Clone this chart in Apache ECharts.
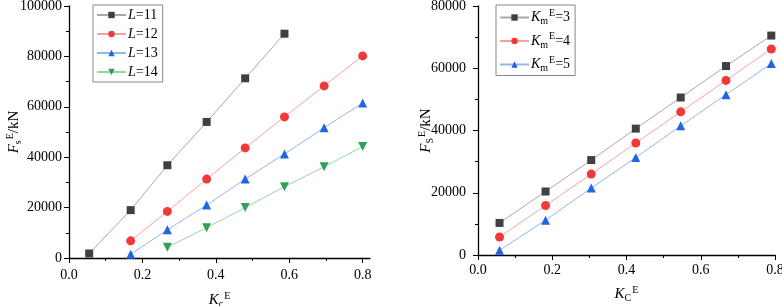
<!DOCTYPE html>
<html>
<head>
<meta charset="UTF-8">
<title>Fs-Kc</title>
<script src="https://cdn.jsdelivr.net/npm/echarts@6/dist/echarts.min.js"></script>
<style>
  body { margin: 0; background: #fff; }
  #main { width: 782px; height: 306px; }
</style>
</head>
<body>
<div id="main"></div>
<script type="text/javascript">
// left chart: different L
var kcLeft = [0.055, 0.168, 0.268, 0.375, 0.48, 0.587, 0.695, 0.8];
var fsL11 = [1800, 19000, 36800, 54000, 71300, 89000];
var fsL12 = [6800, 18500, 31300, 43700, 56000, 68300, 80200];
var fsL13 = [1500, 11200, 21000, 31300, 41300, 51700, 61500];
var fsL14 = [4300, 12000, 20000, 28300, 36200, 44200];
var namesLeft = ['L=11', 'L=12', 'L=13', 'L=14'];

// right chart: different Km
var kcRight = [0.058, 0.182, 0.305, 0.425, 0.546, 0.668, 0.79];
var fsK3 = [10300, 20400, 30500, 40600, 50600, 60700, 70500];
var fsK4 = [5800, 15900, 26000, 36000, 46000, 56100, 66200];
var fsK5 = [1500, 11200, 21500, 31300, 41500, 51500, 61500];
var namesRight = ['Km=3', 'Km=4', 'Km=5'];

var xMajor = [0, 0.2, 0.4, 0.6, 0.8];
var xMinor = [0.1, 0.3, 0.5, 0.7];

function pairs(xs, ys, start) {
  var out = [];
  for (var i = 0; i < ys.length; i++) out.push([xs[start + i], ys[i]]);
  return out;
}

var FONT = '"Liberation Serif", "Times New Roman", serif';
function richSet(size) {
  return {
    i: { fontFamily: FONT, fontSize: size, fontStyle: 'italic', color: '#000' },
    n: { fontFamily: FONT, fontSize: size, color: '#000' },
    sub: { fontFamily: FONT, fontSize: 10, color: '#000', padding: [8, 0, 0, 0] },
    sup: { fontFamily: FONT, fontSize: 10, color: '#000', padding: [0, 0, 9, 1] }
  };
}
var rich = richSet(15);
var richLegend = richSet(14);

var axisLine = { show: true, lineStyle: { color: '#000', width: 1.3 } };
var labelStyle = { color: '#000', fontFamily: FONT, fontSize: 14 };
var plain = function (v) { return String(v); };
var oneDec = function (v) { return v.toFixed(1); };

var myChart = echarts.init(document.getElementById('main'));

var option = {
  animation: false,
  grid: [
    { left: 69, top: 6, width: 301, height: 252, outerBoundsMode: 'none' },
    { left: 478, top: 6, width: 297, height: 249, outerBoundsMode: 'none' }
  ],
  legend: [
    {
      data: namesLeft, orient: 'vertical', left: 93, top: 5,
      itemWidth: 29, itemHeight: 8, itemGap: 5,
      padding: [3, 5, 3, 3],
      borderColor: '#888', borderWidth: 1,
      formatter: function (n) { return '{i|L}{n|' + n.slice(1) + '}'; },
      textStyle: { rich: richLegend, padding: [0, 0, 0, -3] }
    },
    {
      data: namesRight, orient: 'vertical', left: 496, top: 5,
      itemWidth: 29, itemHeight: 8, itemGap: 5,
      padding: [3, 5, 2, 3],
      borderColor: '#888', borderWidth: 1,
      formatter: function (n) { return '{i|K}{sub|m}{sup|E}{n|' + n.slice(2) + '}'; },
      textStyle: { rich: richLegend, padding: [0, 0, 0, -3] }
    }
  ],
  xAxis: [
    {
      gridIndex: 0, type: 'value', position: 'bottom', min: 0, max: 0.82,
      axisLine: axisLine, splitLine: { show: false },
      axisTick: { customValues: xMajor, length: 5, lineStyle: { color: '#000' } },
      axisLabel: Object.assign({ customValues: xMajor, margin: 10, formatter: oneDec }, labelStyle),
      name: '{i|K}{sub|c}{sup|E}', nameLocation: 'middle', nameGap: 33, nameMoveOverlap: false,
      nameTextStyle: { rich: rich }
    },
    {
      gridIndex: 0, type: 'value', position: 'bottom', min: 0, max: 0.82,
      axisLine: { show: false }, splitLine: { show: false },
      axisTick: { customValues: xMinor, length: 3, lineStyle: { color: '#000' } },
      axisLabel: { show: false }
    },
    {
      gridIndex: 1, type: 'value', position: 'bottom', min: 0, max: 0.8, interval: 0.2,
      axisLine: axisLine, splitLine: { show: false },
      axisTick: { length: 5, lineStyle: { color: '#000' } },
      minorTick: { show: true, splitNumber: 2, length: 3, lineStyle: { color: '#000' } },
      axisLabel: Object.assign({ margin: 8, formatter: oneDec }, labelStyle),
      name: '{i|K}{sub|C}{sup|E}', nameLocation: 'middle', nameGap: 30, nameMoveOverlap: false,
      nameTextStyle: { rich: rich }
    }
  ],
  yAxis: [
    {
      gridIndex: 0, type: 'value', min: 0, max: 100000, interval: 20000,
      axisLine: axisLine, splitLine: { show: false },
      axisTick: { length: 5, lineStyle: { color: '#000' } },
      minorTick: { show: true, splitNumber: 2, length: 3, lineStyle: { color: '#000' } },
      axisLabel: Object.assign({ margin: 7, formatter: plain }, labelStyle),
      name: '{i|F}{sub|s}{sup|E}{n|/kN}', nameLocation: 'middle', nameGap: 45, nameMoveOverlap: false,
      nameTextStyle: { rich: rich }
    },
    {
      gridIndex: 1, type: 'value', min: 0, max: 80000, interval: 20000,
      axisLine: axisLine, splitLine: { show: false },
      axisTick: { length: 5, lineStyle: { color: '#000' } },
      minorTick: { show: true, splitNumber: 2, length: 3, lineStyle: { color: '#000' } },
      axisLabel: Object.assign({ margin: 12, formatter: plain }, labelStyle),
      name: '{i|F}{sub|S}{sup|E}{n|/kN}', nameLocation: 'middle', nameGap: 42, nameMoveOverlap: false,
      nameTextStyle: { rich: rich }
    }
  ],
  series: [
    { name: 'L=11', type: 'line', xAxisIndex: 0, yAxisIndex: 0, data: pairs(kcLeft, fsL11, 0),
      symbol: 'rect', symbolSize: 8, itemStyle: { color: '#404040' },
      lineStyle: { color: '#a8a8a8', width: 1 } },
    { name: 'L=12', type: 'line', xAxisIndex: 0, yAxisIndex: 0, data: pairs(kcLeft, fsL12, 1),
      symbol: 'circle', symbolSize: 9, itemStyle: { color: '#f03a3a' },
      lineStyle: { color: '#f5a2a2', width: 1 } },
    { name: 'L=13', type: 'line', xAxisIndex: 0, yAxisIndex: 0, data: pairs(kcLeft, fsL13, 1),
      symbol: 'triangle', symbolSize: 9, itemStyle: { color: '#1f66e0' },
      lineStyle: { color: '#93b6ec', width: 1 } },
    { name: 'L=14', type: 'line', xAxisIndex: 0, yAxisIndex: 0, data: pairs(kcLeft, fsL14, 2),
      symbol: 'triangle', symbolRotate: 180, symbolSize: 9, itemStyle: { color: '#2ea356' },
      lineStyle: { color: '#98d3a8', width: 1 } },
    { name: 'Km=3', type: 'line', xAxisIndex: 2, yAxisIndex: 1, data: pairs(kcRight, fsK3, 0),
      symbol: 'rect', symbolSize: 8, itemStyle: { color: '#404040' },
      lineStyle: { color: '#a8a8a8', width: 1 } },
    { name: 'Km=4', type: 'line', xAxisIndex: 2, yAxisIndex: 1, data: pairs(kcRight, fsK4, 0),
      symbol: 'circle', symbolSize: 9, itemStyle: { color: '#f03a3a' },
      lineStyle: { color: '#f5a2a2', width: 1 } },
    { name: 'Km=5', type: 'line', xAxisIndex: 2, yAxisIndex: 1, data: pairs(kcRight, fsK5, 0),
      symbol: 'triangle', symbolSize: 9, itemStyle: { color: '#1f66e0' },
      lineStyle: { color: '#93b6ec', width: 1 } }
  ]
};

myChart.setOption(option);
</script>
</body>
</html>
